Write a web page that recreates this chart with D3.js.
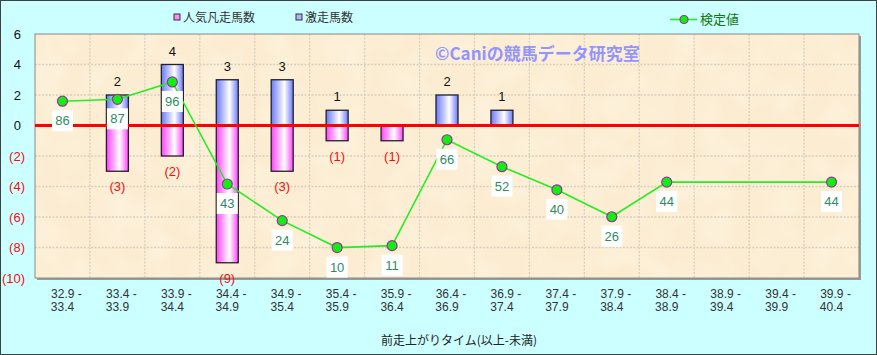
<!DOCTYPE html>
<html><head><meta charset="utf-8">
<script src="https://cdn.jsdelivr.net/npm/d3@7"></script>
<style>
html,body{margin:0;padding:0;background:#fff;}
svg{display:block;font-family:"Liberation Sans","Noto Sans CJK JP",sans-serif;}
</style></head>
<body>
<svg id="chart" width="877" height="355"></svg>
<script>
const categories = ["32.9 - 33.4","33.4 - 33.9","33.9 - 34.4","34.4 - 34.9","34.9 - 35.4","35.4 - 35.9","35.9 - 36.4","36.4 - 36.9","36.9 - 37.4","37.4 - 37.9","37.9 - 38.4","38.4 - 38.9","38.9 - 39.4","39.4 - 39.9","39.9 - 40.4"];
const gekisou = [0,2,4,3,3,1,0,2,1,0,0,0,0,0,0];          // 激走馬数
const bonsou  = [0,3,2,9,3,1,1,0,0,0,0,0,0,0,0];          // 人気凡走馬数
const kentei  = [86,87,96,43,24,10,11,66,52,40,26,44,null,null,44]; // 検定値
const yTicks = [6,4,2,0,-2,-4,-6,-8,-10];
const gridTicks = [4,2,-2,-4,-6,-8];
const legendLabels = ["人気凡走馬数","激走馬数","検定値"];
const xTitle = "前走上がりタイム(以上-未満)";
const watermark = "©Caniの競馬データ研究室";

const svg = d3.select("#chart");
const W = 877, H = 355;
const L = 35, R = 859, T = 34, B = 278;

// background
svg.append("rect").attr("x",0.5).attr("y",0.5).attr("width",W-1).attr("height",H-1)
  .attr("fill","#ccffff").attr("stroke","#404040").attr("stroke-width",1);

const defs = svg.append("defs");
const gb = defs.append("linearGradient").attr("id","gBlue").attr("x1","0").attr("x2","1").attr("y1","0").attr("y2","0");
gb.append("stop").attr("offset","0%").attr("stop-color","#6a78ff");
gb.append("stop").attr("offset","60%").attr("stop-color","#ffffff");
gb.append("stop").attr("offset","100%").attr("stop-color","#6a78ff");
const gp = defs.append("linearGradient").attr("id","gPink").attr("x1","0").attr("x2","1").attr("y1","0").attr("y2","0");
gp.append("stop").attr("offset","0%").attr("stop-color","#ff40ff");
gp.append("stop").attr("offset","60%").attr("stop-color","#ffffff");
gp.append("stop").attr("offset","100%").attr("stop-color","#ff40ff");
const f = defs.append("filter").attr("id","paper").attr("x","0").attr("y","0").attr("width","1").attr("height","1");
f.append("feTurbulence").attr("type","fractalNoise").attr("baseFrequency","0.03").attr("numOctaves","2").attr("seed","4").attr("result","n");
f.append("feColorMatrix").attr("in","n").attr("type","matrix")
  .attr("values","0 0 0 0 1  0 0 0 0 0.98  0 0 0 0 0.93  0 0 0 -1 0.6").attr("result","c");
f.append("feComposite").attr("in","c").attr("in2","SourceGraphic").attr("operator","in");

const x = d3.scaleBand().domain(categories).range([L,R]);
const y = d3.scaleLinear().domain([-10,6]).range([B,T]);
const y2 = d3.scaleLinear().domain([-5.8,120.9]).range([B,T]);

// plot area shadow + fill
svg.append("rect").attr("x",L+2).attr("y",T+2).attr("width",R-L).attr("height",B-T).attr("fill","#9a9a9a");
svg.append("rect").attr("x",L).attr("y",T).attr("width",R-L).attr("height",B-T).attr("fill","#fcedd2");
svg.append("rect").attr("x",L).attr("y",T).attr("width",R-L).attr("height",B-T).attr("fill","#fff").attr("filter","url(#paper)").attr("opacity",0.6);

// grid
const grid = svg.append("g").attr("stroke","#d8cfbf").attr("stroke-width",1.3).attr("stroke-dasharray","2,1.5");
grid.selectAll("line.h").data(gridTicks).join("line").attr("x1",L).attr("x2",R).attr("y1",d=>y(d)).attr("y2",d=>y(d));
grid.selectAll("line.v").data(categories.slice(1)).join("line").attr("x1",d=>x(d)).attr("x2",d=>x(d)).attr("y1",T).attr("y2",B);

// border
svg.append("rect").attr("x",L).attr("y",T).attr("width",R-L).attr("height",B-T).attr("fill","none").attr("stroke","#888").attr("stroke-width",1);

// watermark
svg.append("text").attr("x",435).attr("y",60).attr("fill","#9494ff").attr("font-size",17).attr("font-weight","bold")
  .attr("font-family","'Noto Sans CJK JP',sans-serif").text(watermark);

// bars
const bw = 22;
const bars = svg.append("g");
categories.forEach((c,i)=>{
  const cx = x(c)+x.bandwidth()/2;
  if (gekisou[i]>0) {
    bars.append("rect").attr("x",cx-bw/2).attr("y",y(gekisou[i])).attr("width",bw).attr("height",y(0)-y(gekisou[i]))
      .attr("fill","url(#gBlue)").attr("stroke","#222").attr("stroke-width",1.3);
    bars.append("text").attr("x",cx).attr("y",y(gekisou[i])-9).attr("text-anchor","middle").attr("font-size",13).attr("fill","#111").text(gekisou[i]);
  }
  if (bonsou[i]>0) {
    bars.append("rect").attr("x",cx-bw/2).attr("y",y(0)).attr("width",bw).attr("height",y(-bonsou[i])-y(0))
      .attr("fill","url(#gPink)").attr("stroke","#222").attr("stroke-width",1.3);
    bars.append("text").attr("x",cx).attr("y",y(-bonsou[i])+20).attr("text-anchor","middle").attr("font-size",13).attr("fill","#ee1111").text(`(${bonsou[i]})`);
  }
});

// zero line
svg.append("line").attr("x1",L).attr("x2",R).attr("y1",y(0)).attr("y2",y(0)).attr("stroke","#ff0000").attr("stroke-width",3);

// y axis
const ya = svg.append("g").attr("transform",`translate(${L},0)`)
  .call(d3.axisLeft(y).tickValues(yTicks).tickSize(0).tickPadding(10).tickFormat(d=> d<0 ? `(${-d})` : d));
ya.select(".domain").remove();
ya.selectAll("text").attr("font-size",13).attr("font-family","'Liberation Sans',sans-serif")
  .attr("fill",d=> d<0 ? "#ee1111" : "#111").attr("x",d=> d<0 ? -10 : -14);

// x axis
const xa = svg.append("g").attr("transform",`translate(0,${B})`).call(d3.axisBottom(x).tickSize(0).tickPadding(0));
xa.select(".domain").remove();
xa.selectAll("text").each(function(d){
  const t = d3.select(this); t.text(null).attr("font-size",12).attr("fill","#333").attr("y",0).attr("dy",null);
  const parts = d.split(" - ");
  t.append("tspan").attr("x",4).attr("y",20).text(parts[0]+" -");
  t.append("tspan").attr("x",0).attr("y",33).text(parts[1]);
});
svg.append("text").attr("x",459).attr("y",345).attr("text-anchor","middle").attr("font-size",12).attr("fill","#222")
  .attr("font-family","'Noto Sans CJK JP',sans-serif").text(xTitle);

// line series
const pts = categories.map((c,i)=>({c, v:kentei[i]})).filter(d=>d.v!=null);
const line = d3.line().x(d=>x(d.c)+x.bandwidth()/2).y(d=>y2(d.v));
svg.append("path").datum(pts).attr("d",line).attr("fill","none").attr("stroke","#22ee22").attr("stroke-width",1.6);
const lg = svg.append("g");
pts.forEach(d=>{
  const cx = x(d.c)+x.bandwidth()/2, cy = y2(d.v);
  lg.append("rect").attr("x",cx-10.5).attr("y",cy+9).attr("width",21).attr("height",21).attr("fill","#fff");
  lg.append("text").attr("x",cx).attr("y",cy+24).attr("text-anchor","middle").attr("font-size",13).attr("fill","#2e8b63").text(d.v);
});
lg.selectAll("circle").data(pts).join("circle").attr("cx",d=>x(d.c)+x.bandwidth()/2).attr("cy",d=>y2(d.v)).attr("r",5)
  .attr("fill","#11ee11").attr("stroke","#993399").attr("stroke-width",1.2);

// legend
const leg = svg.append("g").attr("font-family","'Noto Sans CJK JP',sans-serif").attr("font-size",12);
leg.append("rect").attr("x",174).attr("y",14).attr("width",6).attr("height",6).attr("fill","#ff88ff").attr("stroke","#333");
leg.append("text").attr("x",183).attr("y",21.5).attr("fill","#333").text(legendLabels[0]);
leg.append("rect").attr("x",296).attr("y",14).attr("width",6).attr("height",6).attr("fill","#aab4ff").attr("stroke","#333");
leg.append("text").attr("x",305).attr("y",21.5).attr("fill","#333").text(legendLabels[1]);
leg.append("line").attr("x1",670).attr("x2",697).attr("y1",19.5).attr("y2",19.5).attr("stroke","#22ee22").attr("stroke-width",1.6);
leg.append("circle").attr("cx",684).attr("cy",19.5).attr("r",4).attr("fill","#11ee11").attr("stroke","#993399").attr("stroke-width",1.2);
leg.append("text").attr("x",700).attr("y",24).attr("fill","#117711").attr("font-size",13).text(legendLabels[2]);
</script>
</body></html>
